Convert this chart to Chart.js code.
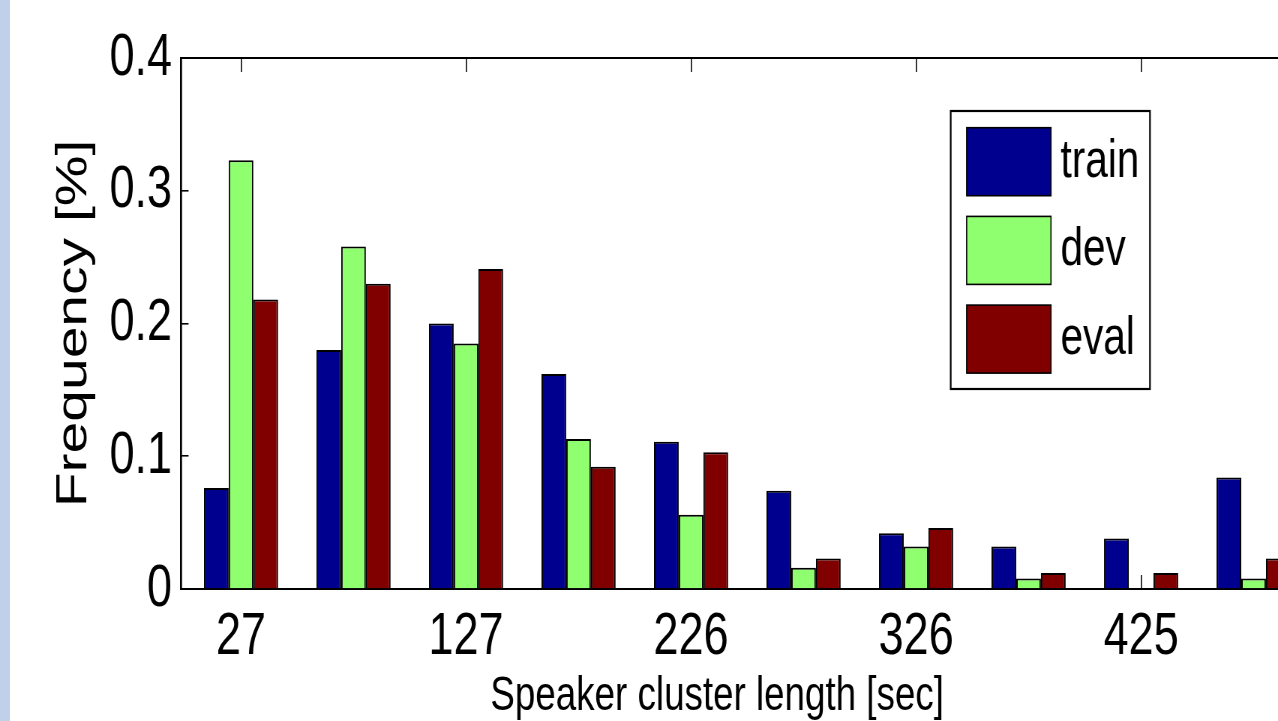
<!DOCTYPE html>
<html><head><meta charset="utf-8">
<script src="https://cdn.jsdelivr.net/npm/chart.js@4.4.0/dist/chart.umd.min.js"></script>
<style>
html,body{margin:0;padding:0;background:#fff;overflow:hidden;width:1278px;height:721px;}
#strip{position:absolute;left:0;top:0;width:10px;height:721px;background:#c0d0ea;z-index:2;}
#wrap{position:absolute;left:0;top:0;width:1850px;height:721px;transform:scaleX(0.75);transform-origin:0 0;}
</style></head><body>
<div id="strip"></div>
<div id="wrap"><canvas id="c"></canvas></div>
<script>
// Bin centres (only every other one is labelled in the figure)
const bins = ['27','77','127','176','226','276','326','375','425','475'];
const tickBins = ['27','127','226','326','425'];
const yTicks = [0, 0.1, 0.2, 0.3, 0.4];

const train   = [0.076, 0.180, 0.200, 0.162, 0.111, 0.074, 0.042, 0.032, 0.038, 0.084];
const dev     = [0.323, 0.258, 0.185, 0.113, 0.056, 0.016, 0.032, 0.008, 0.000, 0.008];
const evalSet = [0.218, 0.230, 0.241, 0.092, 0.103, 0.023, 0.046, 0.012, 0.012, 0.023];

const seriesNames  = ['train', 'dev', 'eval'];
const seriesColors = ['#00008F', '#8FFF6F', '#800000'];
const seriesValues = [train, dev, evalSet];

const FAM = "'Liberation Sans', Arial, Helvetica, sans-serif";
const tickIdx = tickBins.map(t => bins.indexOf(t));
function setTicks(scale){ scale.ticks = tickIdx.map(v => ({value: v})); }

const legendPlugin = {
  id: 'boxLegend',
  afterDraw(chart) {
    const ctx = chart.ctx;
    const L = {left: 1267.6, top: 111, width: 265.7, height: 278,
               swLeft: 1288.9, swW: 112.4, swH: 68, row0: 127.7, step: 88.7, textLeft: 1414, size: 54};
    ctx.save();
    ctx.fillStyle = '#fff';
    ctx.fillRect(L.left, L.top, L.width, L.height);
    ctx.lineWidth = 2.2;
    ctx.strokeStyle = '#000';
    ctx.strokeRect(L.left, L.top, L.width, L.height);
    chart.data.datasets.forEach((ds, i) => {
      const y = L.row0 + i * L.step;
      ctx.fillStyle = ds.backgroundColor;
      ctx.fillRect(L.swLeft, y, L.swW, L.swH);
      ctx.lineWidth = 1.6;
      ctx.strokeStyle = '#000';
      ctx.strokeRect(L.swLeft, y, L.swW, L.swH);
      ctx.fillStyle = '#000';
      ctx.font = L.size + 'px ' + FAM;
      ctx.textAlign = 'left';
      ctx.textBaseline = 'middle';
      ctx.fillText(ds.label, L.textLeft, y + L.swH / 2);
    });
    ctx.restore();
  }
};

const xCommon = {type: 'linear', min: -0.533, max: 10.19, offset: false, afterBuildTicks: setTicks};

new Chart(document.getElementById('c'), {
  type: 'bar',
  data: {
    datasets: seriesNames.map((name, s) => ({
      label: name,
      data: seriesValues[s].map((v, i) => ({x: i, y: v})),
      backgroundColor: seriesColors[s],
      borderColor: '#000',
      borderWidth: 2,
      borderSkipped: 'start',
      categoryPercentage: 0.659,
      barPercentage: 1
    }))
  },
  options: {
    responsive: true,
    maintainAspectRatio: false,
    animation: false,
    layout: {padding: {left: 62.4, top: 58, right: 0, bottom: 0}},
    plugins: {
      legend: {display: false},
      tooltip: {enabled: false},
      title: {display: true, position: 'bottom', text: 'Speaker cluster length [sec]',
              font: {family: FAM, size: 49, weight: 'normal'}, color: '#000', padding: {top: 0, bottom: -5}}
    },
    scales: {
      x: Object.assign({}, xCommon, {
        position: 'bottom',
        grid: {drawOnChartArea: false, drawTicks: true, tickLength: -14, color: '#000', lineWidth: 1.6, offset: false},
        border: {display: true, color: '#000', width: 2},
        ticks: {callback: v => bins[v], padding: 26, font: {family: FAM, size: 60}, color: '#000', maxRotation: 0, autoSkip: false},
        afterFit: s => { s.height = 78.2; }
      }),
      x2: Object.assign({}, xCommon, {
        position: 'top',
        grid: {drawOnChartArea: false, drawTicks: true, tickLength: -14, color: '#000', lineWidth: 1.6, offset: false},
        border: {display: true, color: '#000', width: 2},
        ticks: {display: false},
        afterFit: s => { s.height = 0; }
      }),
      y: {
        type: 'linear', min: 0, max: 0.4,
        afterBuildTicks: s => { s.ticks = yTicks.map(v => ({value: v})); },
        ticks: {padding: 22, font: {family: FAM, size: 60}, color: '#000', callback: v => String(v)},
        grid: {drawOnChartArea: false, drawTicks: true, tickLength: -10, color: '#000', lineWidth: 1.6},
        border: {display: true, color: '#000', width: 2.7},
        title: {display: true, text: 'Frequency [%]', font: {family: FAM, size: 57}, color: '#000', padding: {top: 3, bottom: 3}},
        afterFit: s => { s.width = 179; }
      }
    }
  },
  plugins: [legendPlugin]
});
</script>
</body></html>
